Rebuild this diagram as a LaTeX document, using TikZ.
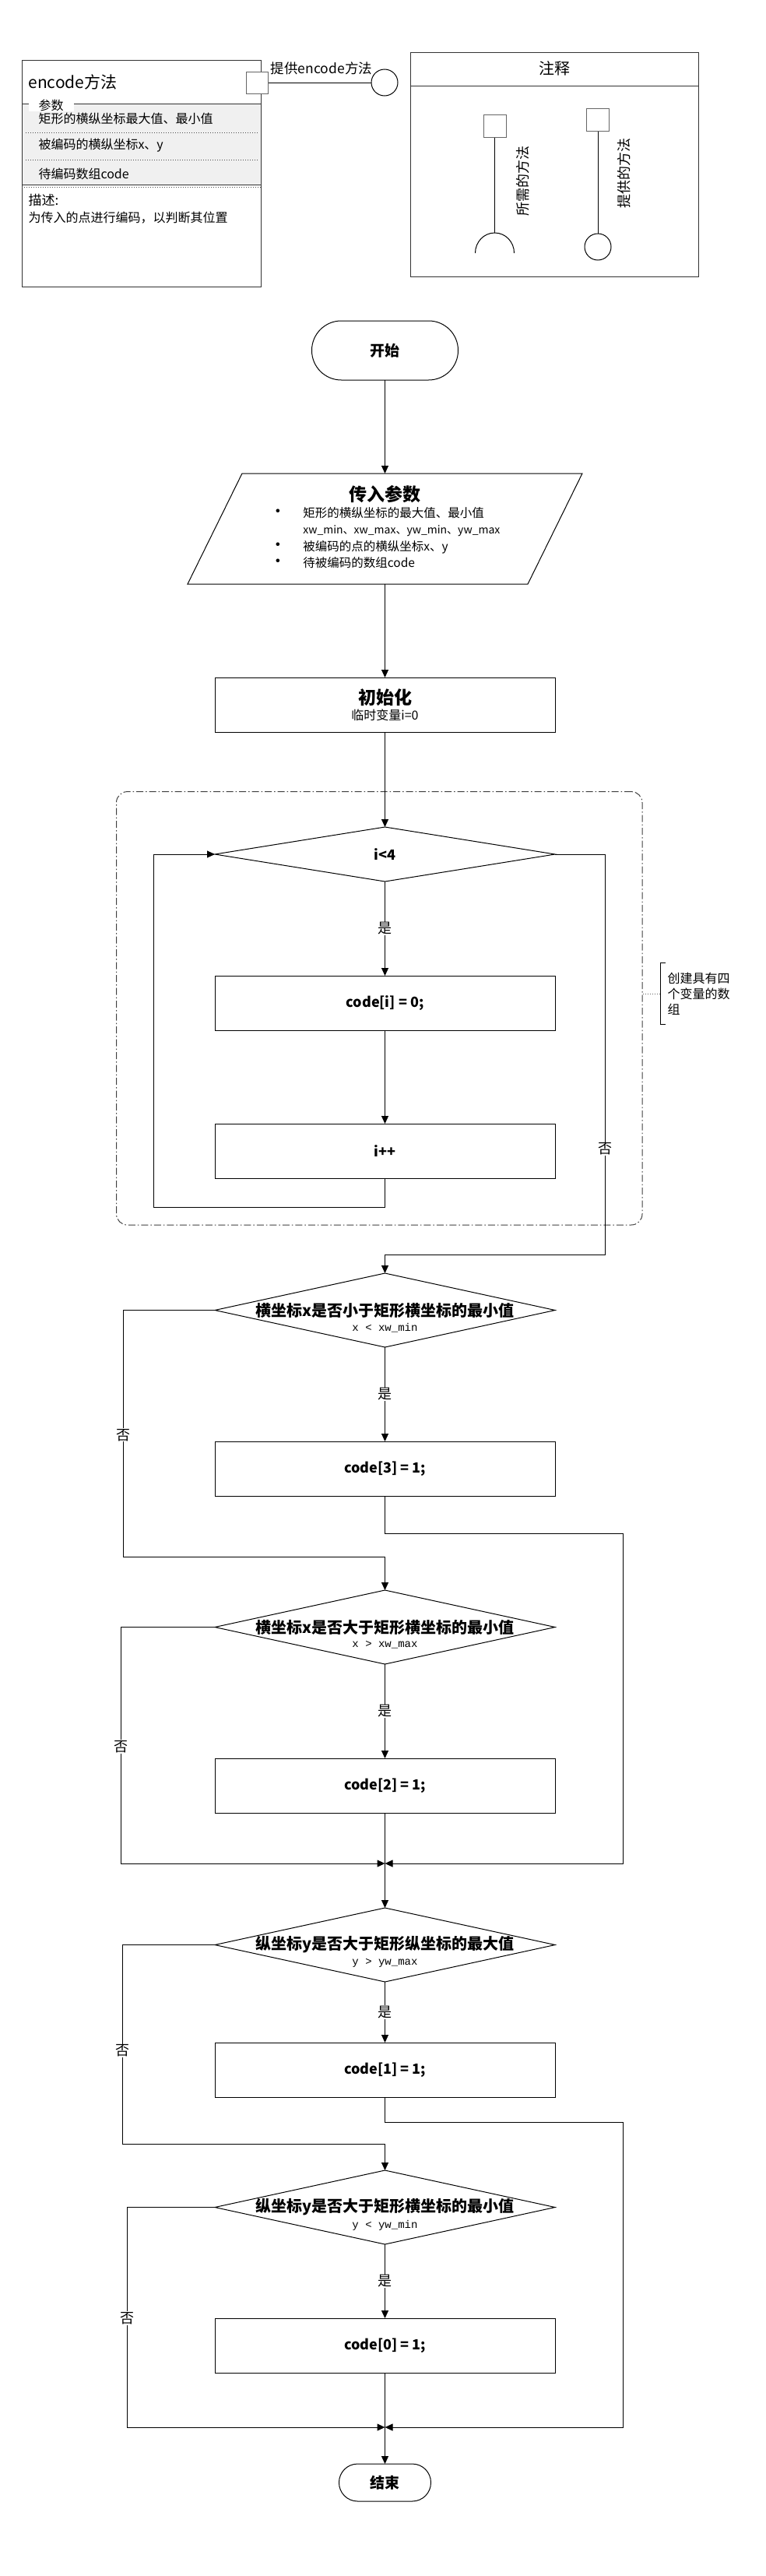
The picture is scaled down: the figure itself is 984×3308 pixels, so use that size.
\documentclass[tikz,border=0pt]{standalone}
\usepackage{fontspec}
\setmainfont{Noto Sans CJK SC}
\setmonofont{Liberation Mono}
\usetikzlibrary{positioning,shapes.geometric,arrows.meta}

\definecolor{rowgray}{HTML}{F0F0F0}

\tikzset{
  startstop/.style={draw, rounded corners=37.9pt, minimum width=188pt, minimum height=76pt, inner sep=0pt, outer sep=0pt, font=\fontsize{19}{22}\selectfont\bfseries},
  process/.style={draw, minimum width=437pt, minimum height=70pt, inner sep=0pt, outer sep=0pt, font=\fontsize{18}{22}\selectfont\bfseries},
  decision/.style={draw, diamond, minimum width=437pt, minimum height=95pt, inner sep=0pt, outer sep=0pt, font=\fontsize{18}{22}\selectfont\bfseries},
  question/.style={font=\fontsize{20}{24}\selectfont\bfseries},
  formula/.style={font=\fontsize{14}{16}\selectfont\ttfamily, yshift=-23pt},
  arrow/.style={-{Triangle[length=10pt,width=9pt]}},
  branch/.style={fill=white, inner sep=1pt, font=\fontsize{18}{20}\selectfont},
  port/.style={draw=black!60, fill=white, minimum size=28pt, inner sep=0pt},
  iface/.style={draw, circle, minimum size=34pt, inner sep=0pt},
  txt/.style={anchor=west, inner sep=0pt, font=\fontsize{16}{20}\selectfont},
  grpbox/.style={draw=black!75, dash pattern=on 9pt off 3pt on 1.5pt off 3pt, rounded corners=14pt, minimum width=675.5pt, minimum height=556.4pt},
}

\begin{document}
\begin{tikzpicture}[x=1pt, y=-1pt, line width=1pt]
  \path[fill=white] (0,0) rectangle (984,3308);
  \useasboundingbox (0,0) rectangle (984,3308);

  % Method box
  \fill[rowgray] (28,133) rectangle (335,237);
  \node[draw=black!80, minimum width=307pt, minimum height=291pt] (enc) at (181.5,222.5) {};
  \draw[black!80] (28,133) -- (335,133);
  \draw[black!80] (28,237) -- (335,237);
  \draw[black!70, dotted] (33,170) -- (331,170);
  \draw[black!70, dotted] (33,205) -- (331,205);
  \draw[black!70, dotted] (28,240) -- (335,240);
  \node[txt, font=\fontsize{21}{24}\selectfont] (enctitle) at (36,105) {encode方法};
  \node[txt, fill=white, inner xsep=13pt, inner ysep=1pt] (params) at (36,135) {参数};
  \node[txt] (par1) at (49,152) {矩形的横纵坐标最大值、最小值};
  \node[txt] (par2) at (49,187) {被编码的横纵坐标x、y};
  \node[txt] (par3) at (49,223) {待编码数组code};
  \node[txt, font=\fontsize{17}{20}\selectfont] (desc) at (36,257) {描述:};
  \node[txt] (desctext) at (36,280) {为传入的点进行编码，以判断其位置};

  % Provided interface
  \node[port] (prt) at (330.5,106) {};
  \node[iface] (ifc) at (494,106) {};
  \draw (prt) -- (ifc);
  \node[inner sep=0pt, font=\fontsize{17.5}{20}\selectfont] (prtlabel) at (413,88) {提供encode方法};

  % Legend
  \node[draw=black!80, anchor=north west, minimum width=370pt, minimum height=288pt] (legend) at (527,67) {};
  \draw[black!80] (527,110) -- (897,110);
  \node[font=\fontsize{20}{22}\selectfont] (legendtitle) at (712,88) {注释};
  \node[port, minimum size=29pt] (req) at (635.5,161.5) {};
  \draw (req.south) -- (635.5,299);
  \draw (610.5,325) arc[start angle=180, end angle=0, x radius=25pt, y radius=26pt];
  \node[rotate=90, font=\fontsize{18}{20}\selectfont] (reqtext) at (671.5,232) {所需的方法};
  \node[port, minimum size=29pt] (prov) at (768,153.5) {};
  \node[iface] (provc) at (768,317) {};
  \draw (prov) -- (provc);
  \node[rotate=90, font=\fontsize{18}{20}\selectfont] (provtext) at (802,222) {提供的方法};

  % Define nodes
  \node[startstop] (start) at (494.5,450) {开始};
  \node[below=120pt of start, minimum width=437pt, minimum height=142pt, inner sep=0pt, outer sep=0pt,
        font=\fontsize{15.5}{21.3}\selectfont] (io) {%
    \begin{tabular}{@{}c@{\hspace{21pt}}l@{}}
      \multicolumn{2}{c}{\fontsize{23}{27}\selectfont\bfseries 传入参数}\\
      \scalebox{1.4}{\textbullet} & 矩形的横纵坐标的最大值、最小值\\
       & {\fontsize{14}{16}\selectfont xw\_min、xw\_max、yw\_min、yw\_max}\\
      \scalebox{1.4}{\textbullet} & 被编码的点的横纵坐标x、y\\
      \scalebox{1.4}{\textbullet} & 待被编码的数组code
    \end{tabular}};
  \draw ([xshift=35pt]io.north west) -- ([xshift=35pt]io.north east)
     -- ([xshift=-35pt]io.south east) -- ([xshift=-35pt]io.south west) -- cycle;
  \node[process, below=120pt of io, align=center, font=\fontsize{16}{20}\selectfont] (init)
    {{\fontsize{23}{26}\selectfont\bfseries 初始化}\\临时变量i=0};

  \node[grpbox] (grp) at (487.25,1294.8) {};
  \node[decision, minimum height=70pt, below=122pt of init] (loop) {i<4};
  \node[process, below=121pt of loop] (set0) {code[i] = 0;};
  \node[process, below=120pt of set0] (inc) {i++};
  \node[txt, align=left, inner xsep=9pt, minimum height=78pt] (note) at (848,1276)
    {创建具有四\\个变量的数\\组};
  \draw ([xshift=7pt]note.north west) -- (note.north west) -- (note.south west) -- ([xshift=7pt]note.south west);
  \draw[dotted, black!60] (grp.east |- note.west) -- (note.west);

  \node[decision, below=122pt of inc,
        label={[question]center:{横坐标x是否小于矩形横坐标的最小值}},
        label={[formula]center:{x < xw\_min}}] (chk1) {};
  \node[process, below=121pt of chk1] (c3) {code[3] = 1;};
  \node[decision, below=121pt of c3,
        label={[question]center:{横坐标x是否大于矩形横坐标的最小值}},
        label={[formula]center:{x > xw\_max}}] (chk2) {};
  \node[process, below=121pt of chk2] (c2) {code[2] = 1;};
  \node[decision, below=122pt of c2,
        label={[question]center:{纵坐标y是否大于矩形纵坐标的最大值}},
        label={[formula]center:{y > yw\_max}}] (chk3) {};
  \node[process, below=78pt of chk3] (c1) {code[1] = 1;};
  \node[decision, below=94pt of c1,
        label={[question]center:{纵坐标y是否大于矩形横坐标的最小值}},
        label={[formula]center:{y < yw\_min}}] (chk4) {};
  \node[process, below=95pt of chk4] (c0) {code[0] = 1;};
  \node[startstop, minimum width=118pt, minimum height=48pt, rounded corners=23.9pt, below=117pt of c0] (end) {结束};

  \coordinate (mrg1) at (494.5,2393);
  \coordinate (mrg2) at (494.5,3117);

  % Connect the nodes
  \draw[arrow] (start) -- (io);
  \draw[arrow] (io) -- (init);
  \draw[arrow] (init) -- (loop);
  \draw[arrow] (loop) -- node[branch]{是} (set0);
  \draw[arrow] (set0) -- (inc);
  \draw[arrow] (inc.south) |- (197.5,1550) |- (loop.west);
  \draw[arrow] (loop.east) -| node[branch, pos=0.868]{否} (777,1611) -| (chk1.north);

  \draw[arrow] (chk1) -- node[branch]{是} (c3);
  \draw[arrow] (chk1.west) -| node[branch, pos=0.753]{否} (158,1999) -| (chk2.north);
  \draw[arrow] (c3.south) |- (800,1969) |- (mrg1);

  \draw[arrow] (chk2) -- node[branch]{是} (c2);
  \draw[arrow] (chk2.west) -| node[branch, pos=0.753]{否} (155.6,2393) -- (mrg1);
  \draw[arrow] (c2) -- (chk3);

  \draw[arrow] (chk3) -- node[branch]{是} (c1);
  \draw[arrow] (chk3.west) -| node[branch, pos=0.766]{否} (157,2753) -| (chk4.north);
  \draw[arrow] (c1.south) |- (800,2725) |- (mrg2);

  \draw[arrow] (chk4) -- node[branch]{是} (c0);
  \draw[arrow] (chk4.west) -| node[branch, pos=0.752]{否} (163.5,3117) -- (mrg2);
  \draw[arrow] (c0) -- (end);

\end{tikzpicture}
\end{document}
